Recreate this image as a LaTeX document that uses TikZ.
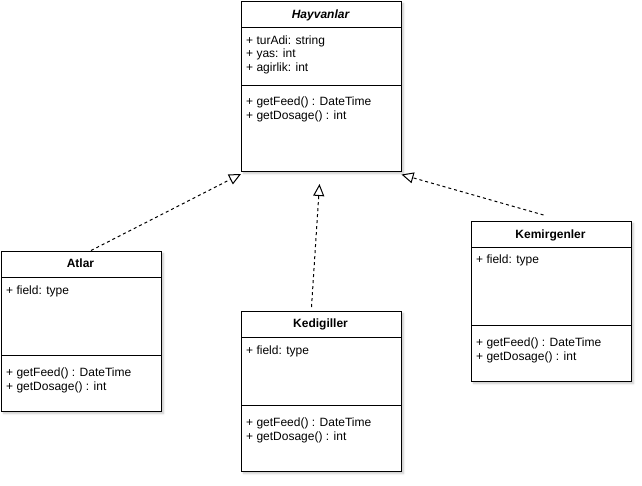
\documentclass[tikz,border=0pt]{standalone}
\usepackage{fontspec}
\setmainfont{Liberation Sans}
\usetikzlibrary{arrows.meta,shadows.blur,calc}
\begin{document}
\begin{tikzpicture}[x=1pt,y=-1pt,
  box/.style={draw=black, line width=1pt, fill=white, inner sep=0pt, anchor=north west, minimum width=160pt},
  shadowed/.style={blur shadow={shadow xshift=2.5pt, shadow yshift=-2.5pt, shadow opacity=22, shadow blur steps=5}},
  txt/.style={inner sep=0pt, anchor=base west, font=\fontsize{12}{14}\selectfont},
  ttl/.style={inner sep=0pt, anchor=base, font=\fontsize{12}{14}\selectfont\bfseries},
  real/.style={draw=black, line width=1pt, dash pattern=on 3pt off 3pt, -{Triangle[open, length=12pt, width=11pt, line width=1pt]}}
]
\useasboundingbox (0,0) rectangle (642,485);

% ---------- Hayvanlar ----------
\node[box, shadowed, minimum height=170pt] (hay) at (240.5,0.5) {};
\node[box, minimum height=26pt] (hayH) at (240.5,0.5) {};
\node[box, minimum height=58pt] (hayF) at (240.5,26.5) {};
\node[ttl, font=\fontsize{12}{14}\selectfont\bfseries\itshape] (hayT) at (320.5,18) {Hayvanlar};
\node[txt] (hayF1) at (246,44) {+ turAdi: string};
\node[txt] (hayF2) at (246,57.7) {+ yas: int};
\node[txt] (hayF3) at (246,71.4) {+ agirlik: int};
\node[txt] (hayM1) at (246,105) {+ getFeed() : DateTime};
\node[txt] (hayM2) at (246,119) {+ getDosage() : int};

% ---------- Atlar ----------
\node[box, shadowed, minimum height=160pt] (atl) at (0.5,250.5) {};
\node[box, minimum height=26pt] (atlH) at (0.5,250.5) {};
\node[box, minimum height=78pt] (atlF) at (0.5,276.5) {};
\node[ttl] (atlT) at (80.5,267.5) {Atlar};
\node[txt] (atlF1) at (6,294) {+ field: type};
\node[txt] (atlM1) at (6,376) {+ getFeed() : DateTime};
\node[txt] (atlM2) at (6,390) {+ getDosage() : int};

% ---------- Kedigiller ----------
\node[box, shadowed, minimum height=160pt] (ked) at (240.5,310.5) {};
\node[box, minimum height=26pt] (kedH) at (240.5,310.5) {};
\node[box, minimum height=68pt] (kedF) at (240.5,336.5) {};
\node[ttl] (kedT) at (320.5,327.5) {Kedigiller};
\node[txt] (kedF1) at (246,354) {+ field: type};
\node[txt] (kedM1) at (246,426) {+ getFeed() : DateTime};
\node[txt] (kedM2) at (246,440) {+ getDosage() : int};

% ---------- Kemirgenler ----------
\node[box, shadowed, minimum height=160pt] (kem) at (470.5,220.5) {};
\node[box, minimum height=26pt] (kemH) at (470.5,220.5) {};
\node[box, minimum height=78pt] (kemF) at (470.5,246.5) {};
\node[ttl] (kemT) at (550.5,238) {Kemirgenler};
\node[txt] (kemF1) at (476,263) {+ field: type};
\node[txt] (kemM1) at (476,346) {+ getFeed() : DateTime};
\node[txt] (kemM2) at (476,360) {+ getDosage() : int};

% ---------- connector ends ----------
\coordinate (atlS) at ($(atl.north)+(10pt,0)$);
\coordinate (atlE) at ($(hay.south west)+(0.5pt,-2.5pt)$);
\coordinate (kedS) at ($(ked.north)+(-9.5pt,3.5pt)$);
\coordinate (kedE) at ($(hay.south)+(-1.5pt,-12.5pt)$);
\coordinate (kemS) at ($(kem.north)+(-7.5pt,5.5pt)$);
\coordinate (kemE) at ($(hay.south east)+(0pt,-3pt)$);

\draw[real] (atlS) -- (atlE);
\draw[real] (kedS) -- (kedE);
\draw[real] (kemS) -- (kemE);
\end{tikzpicture}
\end{document}
